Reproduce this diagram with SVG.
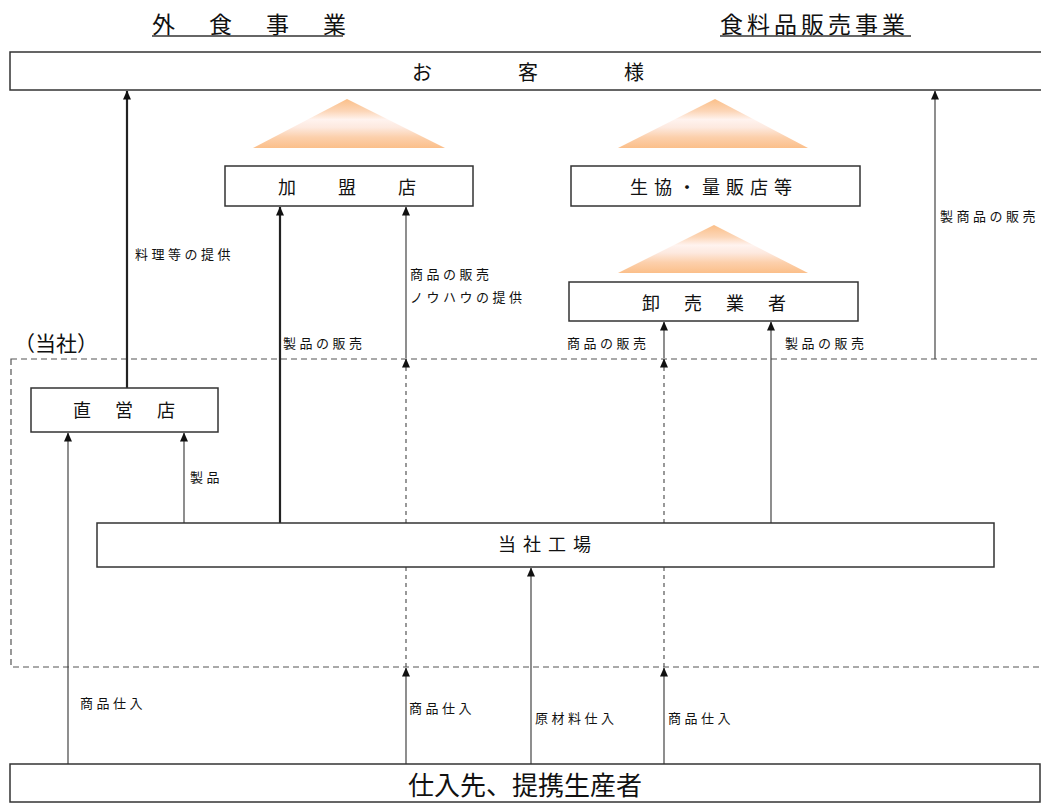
<svg xmlns="http://www.w3.org/2000/svg" width="1041" height="803" viewBox="0 0 1041 803">
<style>
text{font-family:"Noto Sans CJK JP","Noto Sans CJK SC",sans-serif;fill:#111;dominant-baseline:central}
.box{fill:#fff;stroke:#333;stroke-width:1.5}
.lbl{font-size:13px;letter-spacing:3.5px}
.nd{font-size:18px}
.thick{stroke:#222;stroke-width:2.2;fill:none}
.thin{stroke:#444;stroke-width:1.2;fill:none}
.dash{stroke:#555;stroke-width:1.2;stroke-dasharray:4 4;fill:none}
.frame{stroke:#555;stroke-width:1.2;stroke-dasharray:6 4;fill:none}
.hd{font-size:23px}
</style>
<defs>
<marker id="ah" markerUnits="userSpaceOnUse" markerWidth="8" markerHeight="9" refX="4" refY="0.5" orient="0" viewBox="0 0 8 9">
<path d="M4,0 L8,9 L0,9 z" fill="#111"/>
</marker>
<linearGradient id="tg" x1="0" y1="0" x2="0" y2="1">
<stop offset="0" stop-color="#fbbf88"/>
<stop offset="0.25" stop-color="#fcd6b8"/>
<stop offset="0.42" stop-color="#fff3ef"/>
<stop offset="0.58" stop-color="#fde9df"/>
<stop offset="0.78" stop-color="#fcd0ac"/>
<stop offset="1" stop-color="#fbbf8a"/>
</linearGradient>
</defs>
<rect width="1041" height="803" fill="#fff"/>

<!-- headers -->
<g id="headers">
<text x="152" y="23" class="hd" letter-spacing="34">外食事業</text>
<line x1="152" y1="36" x2="343" y2="36" stroke="#333" stroke-width="1.5"/>
<text x="720" y="23" class="hd" letter-spacing="4">食料品販売事業</text>
<line x1="720" y1="36" x2="911" y2="36" stroke="#333" stroke-width="1.5"/>
</g>

<!-- triangles -->
<g id="triangles">
<polygon points="347,99 445,148 253,148" fill="url(#tg)"/>
<polygon points="715,99 808,148 618,148" fill="url(#tg)"/>
<polygon points="714,225 808,273 618,273" fill="url(#tg)"/>
</g>

<!-- company frame -->
<g id="company">
<rect x="11" y="359" width="1045" height="308" class="frame"/>
<text x="14" y="342" font-size="21">（当社）</text>
</g>

<!-- connectors -->
<g id="connectors">
<line x1="127" y1="388" x2="127" y2="91" class="thick" marker-end="url(#ah)"/>
<line x1="280" y1="523" x2="280" y2="207" class="thick" marker-end="url(#ah)"/>
<line x1="406" y1="764" x2="406" y2="668" class="thin" marker-end="url(#ah)"/>
<line x1="406" y1="667" x2="406" y2="359" class="dash" marker-end="url(#ah)"/>
<line x1="406" y1="358" x2="406" y2="207" class="thin" marker-end="url(#ah)"/>
<line x1="531" y1="764" x2="531" y2="568" class="thin" marker-end="url(#ah)"/>
<line x1="664" y1="764" x2="664" y2="668" class="thin" marker-end="url(#ah)"/>
<line x1="664" y1="667" x2="664" y2="359" class="dash" marker-end="url(#ah)"/>
<line x1="664" y1="358" x2="664" y2="322" class="thin" marker-end="url(#ah)"/>
<line x1="771" y1="523" x2="771" y2="322" class="thin" marker-end="url(#ah)"/>
<line x1="935" y1="359" x2="935" y2="91" class="thin" marker-end="url(#ah)"/>
<line x1="68" y1="764" x2="68" y2="433" class="thin" marker-end="url(#ah)"/>
<line x1="184" y1="523" x2="184" y2="433" class="thin" marker-end="url(#ah)"/>
<text x="135" y="253" class="lbl">料理等の提供</text>
<text x="283" y="342" class="lbl">製品の販売</text>
<text x="410" y="273" class="lbl">商品の販売</text>
<text x="410" y="296" class="lbl">ノウハウの提供</text>
<text x="190" y="476" class="lbl">製品</text>
<text x="567" y="342" class="lbl">商品の販売</text>
<text x="785" y="342" class="lbl">製品の販売</text>
<text x="940" y="215" class="lbl">製商品の販売</text>
<text x="80" y="702" class="lbl">商品仕入</text>
<text x="409" y="707" class="lbl">商品仕入</text>
<text x="535" y="717" class="lbl">原材料仕入</text>
<text x="668" y="717" class="lbl">商品仕入</text>
</g>

<!-- nodes -->
<g id="customer">
<rect x="10" y="52" width="1045" height="38" class="box"/>
<text x="412" y="71" font-size="20" letter-spacing="86">お客様</text>
</g>
<g id="franchise">
<rect x="225" y="166" width="248" height="40" class="box"/>
<text x="278" y="186" class="nd" letter-spacing="42">加盟店</text>
</g>
<g id="coop">
<rect x="571" y="166" width="289" height="40" class="box"/>
<text x="630" y="186" class="nd" letter-spacing="6">生協・量販店等</text>
</g>
<g id="wholesaler">
<rect x="569" y="282" width="289" height="39" class="box"/>
<text x="642" y="302" class="nd" letter-spacing="24">卸売業者</text>
</g>
<g id="direct">
<rect x="31" y="388" width="187" height="44" class="box"/>
<text x="73" y="409" class="nd" letter-spacing="24">直営店</text>
</g>
<g id="factory">
<rect x="97" y="523" width="897" height="44" class="box"/>
<text x="498" y="543" class="nd" letter-spacing="7">当社工場</text>
</g>
<g id="supplier">
<rect x="10" y="764" width="1030" height="38" class="box"/>
<text x="408" y="783" font-size="26">仕入先、提携生産者</text>
</g>
</svg>
